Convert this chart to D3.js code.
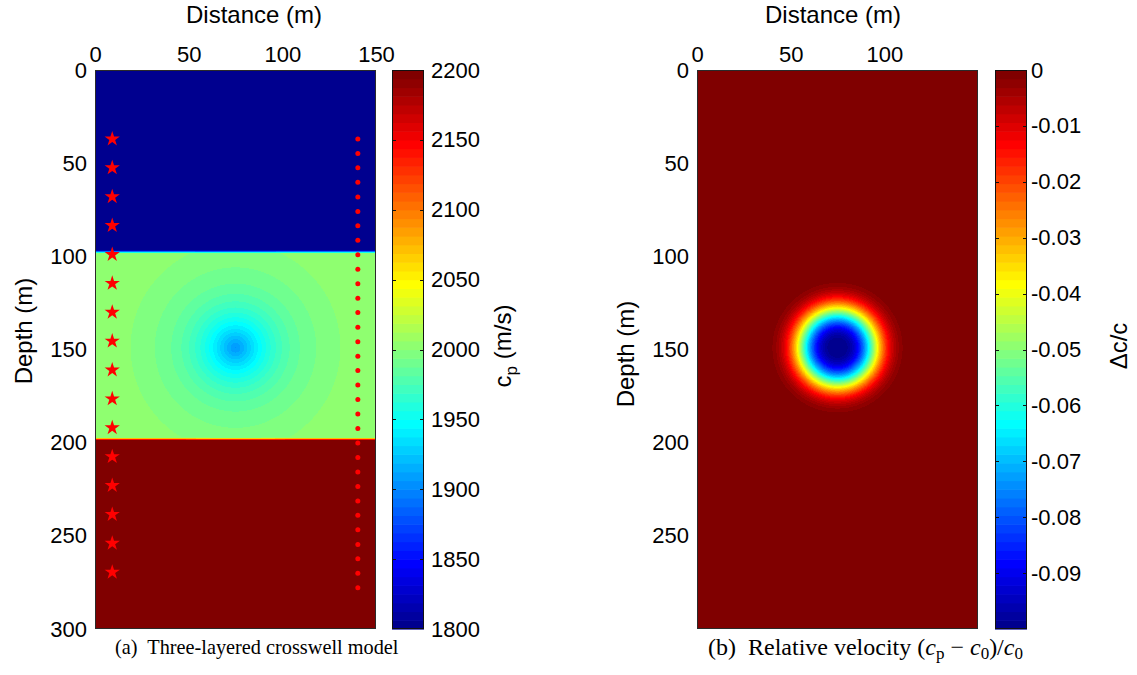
<!DOCTYPE html>
<html><head><meta charset="utf-8">
<script src="https://cdn.jsdelivr.net/npm/d3@7"></script>
<style>body{margin:0;background:#fff}svg{display:block}</style>
</head><body>
<svg id="chart" width="1137" height="675"></svg>
<script>
// ---------- data ----------
const distanceTicksA = [0, 50, 100, 150];
const depthTicksA = [0, 50, 100, 150, 200, 250, 300];
const distanceTicksB = [0, 50, 100];
const depthTicksB = [0, 50, 100, 150, 200, 250];
const velocityTicks = [1800, 1850, 1900, 1950, 2000, 2050, 2100, 2150, 2200];
const relativeTicks = [0, -0.01, -0.02, -0.03, -0.04, -0.05, -0.06, -0.07, -0.08, -0.09];
const layerVelocity = [1800, 2000, 2200];
const layerBoundary = [97.5, 198];
const anomalyCenter = [75, 149];
const anomalyA = {amp: 94, radius: 20, power: 1.3, cutoff: 56};
const anomalyB = {amp: 0.1, radius: 21.6, power: 3, cutoff: 1000};
const sourceX = 9.2;
const sourceDepth = [37, 52.5, 68, 83.5, 99, 114.5, 130, 145.5, 161, 176.5, 192, 207.5, 223, 238.5, 254, 269.5];
const receiverX = 140.3;
const receiverDepth = [37, 44.8, 52.5, 60.3, 68.1, 75.9, 83.6, 91.4, 99.2, 106.9, 114.7, 122.5, 130.2, 138.0, 145.8, 153.6,
  161.3, 169.1, 176.9, 184.6, 192.4, 200.2, 207.9, 215.7, 223.5, 231.3, 239.0, 246.8, 254.6, 262.3, 270.1, 277.9];
const velocityRange = [1800, 2200];
const relativeRange = [-0.1, 0];

// ---------- helpers ----------
function jet(m) {
  const n = Math.ceil(m / 4);
  const u = [];
  for (let i = 1; i <= n; i++) u.push(i / n);
  for (let i = 1; i < n; i++) u.push(1);
  for (let i = n; i >= 1; i--) u.push(i / n);
  const off = Math.ceil(n / 2) - (m % 4 === 1 ? 1 : 0);
  const J = Array.from({length: m}, () => [0, 0, 0]);
  u.forEach((val, k) => {
    const g = off + k + 1, r = g + n, b = g - n;
    if (g >= 1 && g <= m) J[g - 1][1] = val;
    if (r >= 1 && r <= m) J[r - 1][0] = val;
    if (b >= 1 && b <= m) J[b - 1][2] = val;
  });
  return J.map(c => c.map(v => Math.round(v * 255)));
}
const JET = jet(64);
function colorIndex(v, range) {
  let i = Math.floor((v - range[0]) / (range[1] - range[0]) * 64);
  return Math.max(0, Math.min(63, i));
}
function ramp(z, b, w) { return Math.max(0, Math.min(1, (z - (b - w / 2)) / w)); }
function bump(x, z, p) {
  const r = Math.hypot(x - anomalyCenter[0], z - anomalyCenter[1]);
  if (r > p.cutoff) return 0;
  return p.amp * Math.exp(-Math.pow(r / p.radius, p.power));
}
function fieldA(x, z) {
  const r1 = ramp(z, layerBoundary[0], 1.6), r2 = ramp(z, layerBoundary[1], 1.6);
  const base = layerVelocity[0] + (layerVelocity[1] - layerVelocity[0]) * r1 + (layerVelocity[2] - layerVelocity[1]) * r2;
  return base - r1 * (1 - r2) * bump(x, z, anomalyA);
}
function fieldB(x, z) { return -bump(x, z, anomalyB); }

const svg = d3.select("#chart");
const FONT = "Liberation Sans, Arial, sans-serif";

function drawPanel(cfg) {
  const {x, y, field, range, xTicks, yTicks} = cfg;
  const [px0, px1] = x.range(), [py0, py1] = y.range();
  const w = Math.round(px1 - px0), h = Math.round(py1 - py0);
  const canvas = document.createElement("canvas");
  canvas.width = w; canvas.height = h;
  const ctx = canvas.getContext("2d");
  const img = ctx.createImageData(w, h);
  for (let j = 0; j < h; j++) {
    const z = y.invert(py0 + j + 0.5);
    for (let i = 0; i < w; i++) {
      const xv = x.invert(px0 + i + 0.5);
      const c = JET[colorIndex(field(xv, z), range)];
      const k = (j * w + i) * 4;
      img.data[k] = c[0]; img.data[k + 1] = c[1]; img.data[k + 2] = c[2]; img.data[k + 3] = 255;
    }
  }
  ctx.putImageData(img, 0, 0);
  svg.append("image").attr("x", px0).attr("y", py0).attr("width", w).attr("height", h)
    .attr("preserveAspectRatio", "none").attr("href", canvas.toDataURL());
  svg.append("rect").attr("x", px0 + 0.5).attr("y", py0 + 0.5).attr("width", w - 1).attr("height", h - 1)
    .attr("fill", "none").attr("stroke", "#2a2a2a").attr("stroke-width", 1);

  const gx = svg.append("g").attr("transform", `translate(0,${py0})`)
    .call(d3.axisTop(x).tickValues(xTicks).tickSize(0).tickPadding(8));
  const gy = svg.append("g").attr("transform", `translate(${px0},0)`)
    .call(d3.axisLeft(y).tickValues(yTicks).tickSize(0).tickPadding(8));
  [gx, gy].forEach(g => {
    g.select(".domain").remove();
    g.attr("font-size", 22).attr("font-family", FONT);
    g.selectAll("text").attr("fill", "#000");
  });
}

function drawColorbar(cfg) {
  const {x0, x1, scale, ticks, fmt, pad} = cfg;
  const [ya, yb] = scale.range(); // bottom, top
  const d = scale.domain();
  const step = (d[1] - d[0]) / 64;
  for (let i = 0; i < 64; i++) {
    const c = JET[i];
    const yTop = scale(d[0] + (i + 1) * step), yBot = scale(d[0] + i * step);
    svg.append("rect").attr("x", x0).attr("y", yTop).attr("width", x1 - x0).attr("height", yBot - yTop + 0.6)
      .attr("fill", `rgb(${c[0]},${c[1]},${c[2]})`);
  }
  svg.append("rect").attr("x", x0 + 0.5).attr("y", yb + 0.5).attr("width", x1 - x0 - 1).attr("height", ya - yb - 1)
    .attr("fill", "none").attr("stroke", "#111").attr("stroke-width", 1);
  ticks.forEach(t => {
    const yy = Math.round(scale(t)) + 0.5;
    if (yy < yb + 2 || yy > ya - 2) return;
    svg.append("line").attr("x1", x0).attr("x2", x0 + 4).attr("y1", yy).attr("y2", yy).attr("stroke", "#111");
    svg.append("line").attr("x1", x1 - 4).attr("x2", x1).attr("y1", yy).attr("y2", yy).attr("stroke", "#111");
  });
  const g = svg.append("g").attr("transform", `translate(${x1},0)`)
    .call(d3.axisRight(scale).tickValues(ticks).tickSize(0).tickPadding(pad).tickFormat(fmt));
  g.select(".domain").remove();
  g.attr("font-size", 22).attr("font-family", FONT);
  g.selectAll("text").attr("fill", "#000");
}

// ---------- panel (a) ----------
const xA = d3.scaleLinear().domain([0, 150]).range([95, 376]);
const yA = d3.scaleLinear().domain([0, 300]).range([70, 629]);
drawPanel({x: xA, y: yA, field: fieldA, range: velocityRange, xTicks: distanceTicksA, yTicks: depthTicksA});

svg.append("g").selectAll("path").data(sourceDepth).join("path")
  .attr("transform", d => `translate(${xA(sourceX)},${yA(d)})`)
  .attr("d", d3.symbol(d3.symbolStar, 72)).attr("fill", "#ff0000");
svg.append("g").selectAll("circle").data(receiverDepth).join("circle")
  .attr("cx", xA(receiverX)).attr("cy", d => yA(d)).attr("r", 2.5).attr("fill", "#ff0000");

const cbA = d3.scaleLinear().domain(velocityRange).range([629, 70]);
drawColorbar({x0: 392, x1: 424, scale: cbA, ticks: velocityTicks, fmt: d3.format("d"), pad: 7});

// ---------- panel (b) ----------
const xB = d3.scaleLinear().domain([0, 150]).range([697, 978]);
const yB = d3.scaleLinear().domain([0, 300]).range([70, 629]);
drawPanel({x: xB, y: yB, field: fieldB, range: relativeRange, xTicks: distanceTicksB, yTicks: depthTicksB});

const cbB = d3.scaleLinear().domain(relativeRange).range([629, 70]);
drawColorbar({x0: 995, x1: 1027, scale: cbB, ticks: relativeTicks,
  fmt: v => (v === 0 ? "0" : d3.format(".2f")(v).replace("\u2212", "-")), pad: 4});

// ---------- titles / labels ----------
const lab = (x, y, txt, rot) => {
  const t = svg.append("text").attr("font-family", FONT).attr("font-size", 24).attr("text-anchor", "middle")
    .attr("transform", `translate(${x},${y})` + (rot ? " rotate(-90)" : ""));
  if (typeof txt === "string") t.text(txt);
  return t;
};
lab(254, 23, "Distance (m)");
lab(833, 23, "Distance (m)");
lab(32, 331, "Depth (m)", true);
lab(634, 354, "Depth (m)", true);
{
  const t = lab(511, 346, null, true);
  t.append("tspan").text("c");
  t.append("tspan").attr("dy", 6).attr("font-size", 17).text("p");
  t.append("tspan").attr("dy", -6).text(" (m/s)");
}
lab(1127, 346, "\u0394c/c", true);

// captions
const SERIF = "Liberation Serif, Times New Roman, serif";
svg.append("text").attr("x", 115).attr("y", 654).attr("font-family", SERIF).attr("font-size", 20.3)
  .style("white-space", "pre").text("(a)  Three-layered crosswell model");
{
  const t = svg.append("text").attr("x", 708).attr("y", 655).attr("font-family", SERIF).attr("font-size", 24)
    .style("white-space", "pre");
  t.append("tspan").text("(b)  Relative velocity (");
  t.append("tspan").attr("font-style", "italic").text("c");
  t.append("tspan").attr("dy", 4).attr("font-size", 17).text("p");
  t.append("tspan").attr("dy", -4).text(" \u2212 ");
  t.append("tspan").attr("font-style", "italic").text("c");
  t.append("tspan").attr("dy", 4).attr("font-size", 17).text("0");
  t.append("tspan").attr("dy", -4).text(")/");
  t.append("tspan").attr("font-style", "italic").text("c");
  t.append("tspan").attr("dy", 4).attr("font-size", 17).text("0");
}
</script>
</body></html>
